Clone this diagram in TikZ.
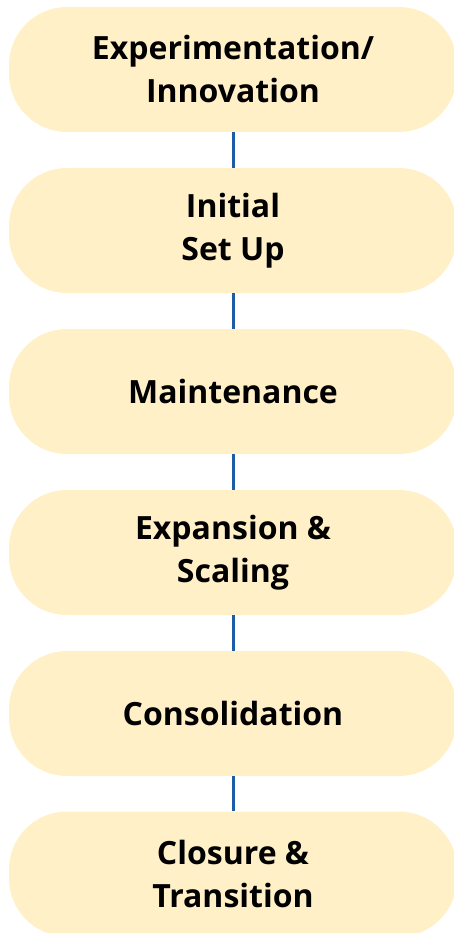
\documentclass[tikz,border=0pt]{standalone}
\usepackage{fontspec}
\setmainfont{Open Sans}
\usetikzlibrary{positioning}
\definecolor{cream}{HTML}{FFF0C7}
\definecolor{linkblue}{HTML}{1F5CA8}
\tikzset{
  stage/.style={
    rectangle, rounded corners=58pt,
    draw=none, fill=cream,
    minimum width=448pt, minimum height=125pt, inner sep=0pt,
    align=center, font=\fontsize{32}{43}\selectfont\bfseries
  },
  link/.style={line width=3pt, draw=linkblue},
}
\begin{document}
\begin{tikzpicture}[x=1pt, y=-1pt]
  \useasboundingbox (0,0) rectangle (453,933);

  \node[stage] (exp)   at (233, 69.5)  {Experimentation/\\Innovation};
  \node[stage] (setup) at (233, 230.5) {Initial\\Set Up};
  \node[stage] (maint) at (233, 391.5) {Maintenance};
  \node[stage] (scale) at (233, 552.5) {Expansion \&\\Scaling};
  \node[stage] (cons)  at (233, 713.5) {Consolidation};
  \node[stage] (close) at (233, 874)   {Closure \&\\Transition};

  \draw[link] (exp) -- (setup);
  \draw[link] (setup) -- (maint);
  \draw[link] (maint) -- (scale);
  \draw[link] (scale) -- (cons);
  \draw[link] (cons) -- (close);
\end{tikzpicture}
\end{document}
